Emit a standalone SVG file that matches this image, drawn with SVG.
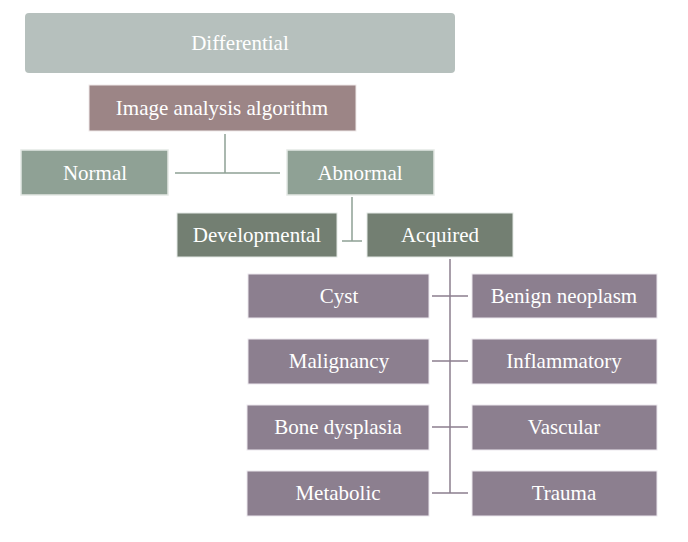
<svg xmlns="http://www.w3.org/2000/svg" width="688" height="542" viewBox="0 0 688 542">
<style>
text{font-family:"Liberation Serif","Times New Roman",serif;fill:#fff;text-anchor:middle;dominant-baseline:central;font-size:21px}
.l{stroke:#8fa195;stroke-width:1.5;fill:none}
.p{stroke:#8c7f8f;stroke-width:1.5;fill:none}
.g{fill:#8fa195;stroke:#e4e9e5;stroke-width:1.5}
.d{fill:#737f72;stroke:#e4e9e5;stroke-width:1}
.v{fill:#8c7f8f;stroke:#ece8ee;stroke-width:1}
</style>
<rect width="688" height="542" fill="#fff"/>
<g id="connectors">
<path class="l" d="M225 134V173M175 173H280"/>
<path class="l" d="M352 197V241M342 241H362"/>
<path class="p" d="M450 259V493M432 296H468M432 361H468M432 427H468M432 493H468"/>
</g>
<g id="title"><rect x="25" y="13" width="430" height="60" rx="4" fill="#b6c0bd"/><text x="240" y="43" font-size="38">Differential</text></g>
<g id="image"><rect x="89" y="85" width="267" height="46" fill="#9c8586" stroke="#efe9e9"/><text x="222" y="108">Image analysis algorithm</text></g>
<g id="normal"><rect class="g" x="21" y="150" width="147" height="45"/><text x="95" y="173">Normal</text></g>
<g id="abnormal"><rect class="g" x="287" y="150" width="147" height="45"/><text x="360" y="173">Abnormal</text></g>
<g id="developmental"><rect class="d" x="177" y="213" width="160" height="44"/><text x="257" y="235">Developmental</text></g>
<g id="acquired"><rect class="d" x="367" y="213" width="146" height="44"/><text x="440" y="235">Acquired</text></g>
<g id="cyst"><rect class="v" x="248" y="274" width="181" height="44"/><text x="339" y="296">Cyst</text></g>
<g id="benign"><rect class="v" x="472" y="274" width="185" height="44"/><text x="564" y="296">Benign neoplasm</text></g>
<g id="malignancy"><rect class="v" x="248" y="339" width="181" height="45"/><text x="339" y="361">Malignancy</text></g>
<g id="inflammatory"><rect class="v" x="472" y="339" width="185" height="45"/><text x="564" y="361">Inflammatory</text></g>
<g id="bone"><rect class="v" x="247" y="405" width="182" height="45"/><text x="338" y="427">Bone dysplasia</text></g>
<g id="vascular"><rect class="v" x="472" y="405" width="185" height="45"/><text x="564" y="427">Vascular</text></g>
<g id="metabolic"><rect class="v" x="247" y="471" width="182" height="45"/><text x="338" y="493">Metabolic</text></g>
<g id="trauma"><rect class="v" x="472" y="471" width="185" height="45"/><text x="564" y="493">Trauma</text></g>
</svg>
